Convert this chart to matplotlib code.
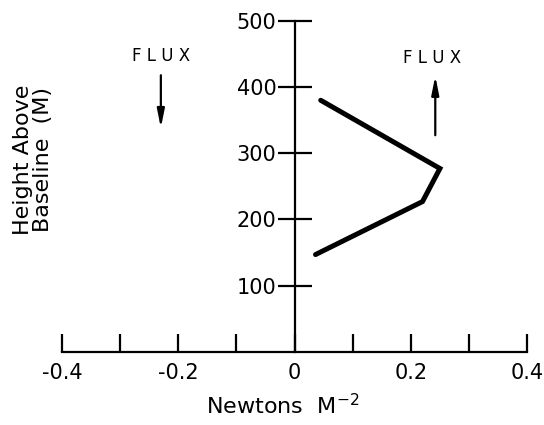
import matplotlib
matplotlib.use("Agg")
import matplotlib.pyplot as plt

# stress profile
stress = [0.045, 0.25, 0.22, 0.036]      # Newtons M^-2
height = [380, 277, 227, 147]             # metres above baseline

x_ticks = [-0.4, -0.3, -0.2, -0.1, 0.0, 0.1, 0.2, 0.3, 0.4]
x_labels = ["-0.4", "", "-0.2", "", "0", "", "0.2", "", "0.4"]
y_ticks = [100, 200, 300, 400, 500]
y_labels = ["100", "200", "300", "400", "500"]

INK = "black"
plt.rcParams["font.family"] = ["DejaVu Sans"]

fig = plt.figure(figsize=(5.44, 4.25), dpi=100)
ax = fig.add_axes([0.114, 0.172, 0.855, 0.779])
ax.set_xlim(-0.4, 0.4)
ax.set_ylim(0, 500)

ax.plot(stress, height, color=INK, lw=3.6, solid_capstyle="round",
        solid_joinstyle="miter")

for s in ("top", "right"):
    ax.spines[s].set_visible(False)
ax.spines["left"].set_position(("data", 0))
ax.spines["bottom"].set_position(("data", 0))
ax.spines["left"].set_linewidth(1.6)
ax.spines["bottom"].set_linewidth(1.6)
ax.spines["bottom"].set_bounds(-0.4, 0.4)
ax.spines["left"].set_bounds(0, 500)

ax.set_xticks(x_ticks)
ax.set_xticklabels(x_labels)
ax.set_yticks(y_ticks)
ax.set_yticklabels(y_labels)
ax.tick_params(axis="x", direction="in", length=13, width=1.6, pad=8,
               labelsize=15, colors=INK)
ax.tick_params(axis="y", direction="inout", length=24, width=1.6, pad=1,
               labelsize=15, colors=INK)

ax.set_xlabel("Newtons  M$^{-2}$", fontsize=16)
ax.xaxis.set_label_coords(0.475, -0.125)
fig.text(33 / 544, 1 - 160 / 425, "Height Above\nBaseline  (M)",
         rotation=90, ha="center", va="center", fontsize=16, linespacing=1.05)

# flux annotations
arrow = dict(arrowstyle="-|>,head_width=0.22,head_length=1.1", color=INK, lw=1.6)
ax.text(-0.23, 447, "F L U X", ha="center", va="center", fontsize=12)
ax.annotate("", xy=(-0.23, 334), xytext=(-0.23, 422), arrowprops=arrow)
ax.text(0.237, 444, "F L U X", ha="center", va="center", fontsize=12)
ax.annotate("", xy=(0.242, 421), xytext=(0.242, 323), arrowprops=arrow)

fig.savefig("out.png", dpi=100)
